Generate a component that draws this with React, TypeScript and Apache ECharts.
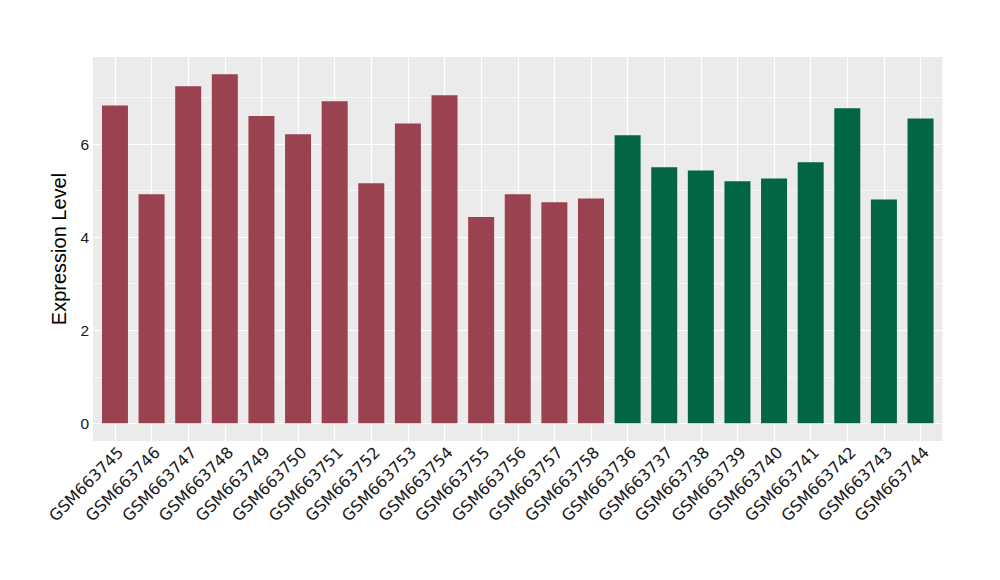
import React, { useEffect, useRef } from "react";
import * as echarts from "echarts";

const groupASamples = [
  "GSM663745", "GSM663746", "GSM663747", "GSM663748", "GSM663749", "GSM663750", "GSM663751",
  "GSM663752", "GSM663753", "GSM663754", "GSM663755", "GSM663756", "GSM663757", "GSM663758",
];
const groupAValues = [6.83, 4.92, 7.24, 7.5, 6.6, 6.21, 6.92, 5.16, 6.44, 7.05, 4.43, 4.92, 4.75, 4.83];

const groupBSamples = [
  "GSM663736", "GSM663737", "GSM663738", "GSM663739", "GSM663740",
  "GSM663741", "GSM663742", "GSM663743", "GSM663744",
];
const groupBValues = [6.19, 5.5, 5.43, 5.2, 5.26, 5.61, 6.77, 4.81, 6.55];

const groupAColor = "#9B4251";
const groupBColor = "#026644";

const yMajorTicks = [0, 2, 4, 6];
const yMinorTicks = [1, 3, 5, 7];

const categories = [...groupASamples, ...groupBSamples];

export default function App() {
  const ref = useRef<HTMLDivElement>(null);

  useEffect(() => {
    if (!ref.current) return;
    const chart = echarts.init(ref.current, null, { renderer: "svg" });
    const indices = categories.map((_, i) => i);
    const barData = [
      ...groupAValues.map((v, i) => ({ value: [i, v], itemStyle: { color: groupAColor } })),
      ...groupBValues.map((v, i) => ({
        value: [i + groupAValues.length, v],
        itemStyle: { color: groupBColor },
      })),
    ];
    chart.setOption({
      animation: false,
      grid: {
        left: 93,
        right: 57.5,
        top: 57,
        bottom: 139,
        show: true,
        backgroundColor: "#EBEBEB",
        borderWidth: 0,
      },
      xAxis: {
        type: "value",
        min: -0.6,
        max: categories.length - 1 + 0.6,
        axisLine: { show: false },
        splitLine: { show: false },
        axisTick: {
          show: true,
          customValues: indices,
          length: 4,
          lineStyle: { color: "#333333", width: 1 },
        },
        axisLabel: {
          customValues: indices,
          formatter: (v: number) => categories[Math.round(v)] ?? "",
          rotate: 45,
          align: "right",
          verticalAlign: "top",
          fontSize: 16,
          fontFamily: "DejaVu Sans",
          color: "#1a1a1a",
          margin: 3,
        },
      },
      yAxis: {
        type: "value",
        min: -0.38,
        max: 7.87,
        axisLine: { show: false },
        splitLine: { show: false },
        axisTick: {
          show: true,
          customValues: yMajorTicks,
          length: 4,
          lineStyle: { color: "#333333", width: 1 },
        },
        axisLabel: {
          customValues: yMajorTicks,
          fontSize: 15.5,
          fontFamily: "Liberation Sans",
          color: "#1a1a1a",
          margin: 4,
        },
        name: "Expression Level",
        nameLocation: "middle",
        nameGap: 15,
        nameTextStyle: { fontSize: 20, fontFamily: "Liberation Sans", color: "#000000" },
      },
      series: [
        {
          type: "bar",
          data: barData,
          barWidth: "71%",
          z: 2,
          markLine: {
            silent: true,
            z: 1,
            symbol: "none",
            label: { show: false },
            lineStyle: { color: "#FFFFFF", type: "solid", width: 1.2 },
            data: [
              ...yMinorTicks.map((v) => ({ yAxis: v, lineStyle: { color: "#FFFFFF", type: "solid", width: 0.6 } })),
              ...yMajorTicks.map((v) => ({ yAxis: v, lineStyle: { color: "#FFFFFF", type: "solid", width: 1.2 } })),
              ...indices.map((i) => ({ xAxis: i, lineStyle: { color: "#FFFFFF", type: "solid", width: 1.2 } })),
            ],
          },
        },
      ],
    });
    return () => chart.dispose();
  }, []);

  return (
    <div
      ref={ref}
      style={{ position: "fixed", left: 0, top: 0, width: 1000, height: 580, background: "#FFFFFF" }}
    />
  );
}
